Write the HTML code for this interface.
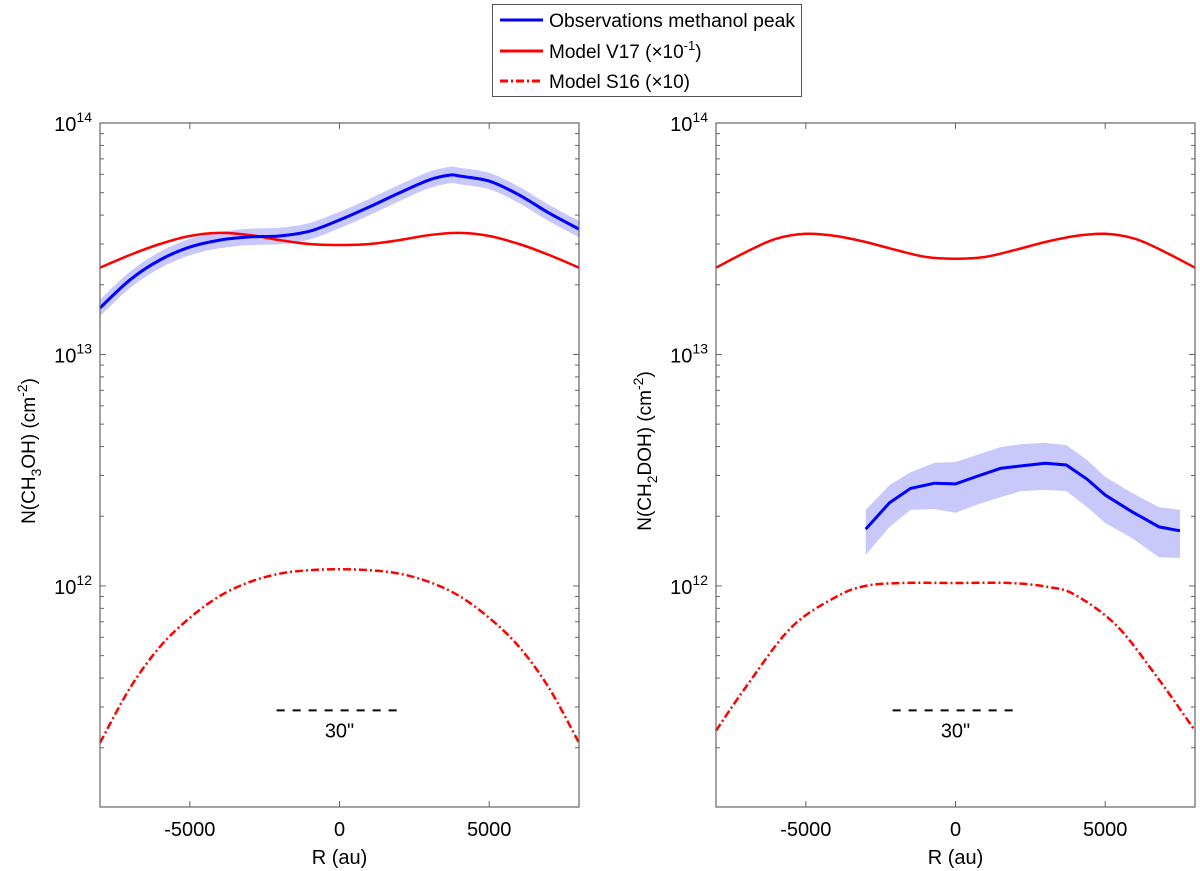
<!DOCTYPE html>
<html><head><meta charset="utf-8"><style>
html,body{margin:0;padding:0;background:#fff}
svg{display:block;font-family:"Liberation Sans",Arial,sans-serif}
</style></head><body>
<svg id="chart" width="1200" height="871" viewBox="0 0 1200 871" xmlns="http://www.w3.org/2000/svg">
<g id="left"></g>
<g id="right"></g>
<g>
<rect x="492.5" y="4.5" width="309" height="92" fill="#fff" stroke="#555" stroke-width="1"/>
<line x1="500" y1="20" x2="543" y2="20" stroke="#0000ff" stroke-width="3"/>
<text x="549" y="27" font-size="19" textLength="246" lengthAdjust="spacingAndGlyphs">Observations methanol peak</text>
<line x1="500" y1="51" x2="543" y2="51" stroke="#ff0000" stroke-width="3"/>
<text x="549" y="58" font-size="19">Model V17 (×10<tspan dy="-8" font-size="13">-1</tspan><tspan dy="8">)</tspan></text>
<line x1="500" y1="81" x2="543" y2="81" stroke="#ff0000" stroke-width="3" stroke-dasharray="8,3,2,3"/>
<text x="549" y="88" font-size="19">Model S16 (×10)</text>
</g>
</svg>
<script>
// ---- data ----
const xTicks = [-5000, 0, 5000];
const xTickLabels = ["-5000", "0", "5000"];
const yDecades = [12, 13, 14];
// Left panel (CH3OH)
const leftV17X = [-8000,-7000,-6000,-5000,-4000,-3000,-2000,-1000,0,1000,2000,3000,4000,5000,6000,7000,8000];
const leftV17Y = [2.37e13,2.69e13,3.00e13,3.25e13,3.35e13,3.28e13,3.12e13,3.00e13,2.97e13,3.00e13,3.12e13,3.28e13,3.35e13,3.25e13,3.00e13,2.69e13,2.37e13];
const leftObsX = [-8000,-7000,-6000,-5000,-4000,-3000,-2000,-1000,0,1000,2000,3000,3700,4000,5000,6000,7000,8000];
const leftObsY = [1.59e13,2.10e13,2.56e13,2.91e13,3.12e13,3.22e13,3.25e13,3.41e13,3.81e13,4.34e13,4.99e13,5.68e13,5.96e13,5.90e13,5.61e13,4.89e13,4.08e13,3.48e13];
const leftObsErr = [0.085,0.085,0.085,0.085,0.085,0.085,0.085,0.085,0.085,0.085,0.085,0.085,0.085,0.085,0.085,0.085,0.085,0.085];
const leftS16X = [-8000,-7000,-6000,-5000,-4000,-3000,-2000,-1000,0,1000,2000,3000,4000,5000,6000,7000,8000];
const leftS16Y = [2.10e11,3.62e11,5.46e11,7.28e11,9.05e11,1.04e12,1.13e12,1.17e12,1.18e12,1.17e12,1.13e12,1.04e12,9.05e11,7.28e11,5.46e11,3.62e11,2.10e11];
// Right panel (CH2DOH)
const rightV17X = [-8000,-7000,-6000,-5000,-4000,-3000,-2000,-1000,0,1000,2000,3000,4000,5000,6000,7000,8000];
const rightV17Y = [2.37e13,2.77e13,3.16e13,3.32e13,3.25e13,3.06e13,2.83e13,2.64e13,2.59e13,2.64e13,2.83e13,3.06e13,3.25e13,3.32e13,3.16e13,2.77e13,2.37e13];
const rightObsX = [-3000,-2200,-1500,-700,0,700,1500,2200,3000,3700,4400,5000,5900,6800,7500];
const rightObsY = [1.76e12,2.29e12,2.64e12,2.78e12,2.76e12,2.97e12,3.22e12,3.30e12,3.39e12,3.33e12,2.89e12,2.47e12,2.09e12,1.80e12,1.73e12];
const rightObsHi = [2.13e12,2.73e12,3.10e12,3.40e12,3.43e12,3.68e12,3.98e12,4.10e12,4.15e12,4.06e12,3.50e12,2.96e12,2.52e12,2.19e12,2.13e12];
const rightObsLo = [1.36e12,1.80e12,2.13e12,2.15e12,2.07e12,2.24e12,2.42e12,2.57e12,2.60e12,2.57e12,2.19e12,1.87e12,1.61e12,1.33e12,1.32e12];
const rightS16X = [-8000,-7000,-5500,-4000,-3000,-1800,0,1800,3100,4000,5400,6800,8000];
const rightS16Y = [2.37e11,3.66e11,6.59e11,8.96e11,1.00e12,1.03e12,1.03e12,1.03e12,0.99e12,9.14e11,6.70e11,3.93e11,2.37e11];
const scaleBar = [-2100, 2100, 2.9e11];

const NS = "http://www.w3.org/2000/svg";
function mk(tag, attrs, parent){const e=document.createElementNS(NS,tag);for(const k in attrs)e.setAttribute(k,attrs[k]);parent.appendChild(e);return e;}

function smoothPath(pts){
  let d='M'+pts[0][0].toFixed(1)+','+pts[0][1].toFixed(1);
  for(let i=0;i<pts.length-1;i++){
    const p0=pts[Math.max(0,i-1)],p1=pts[i],p2=pts[i+1],p3=pts[Math.min(pts.length-1,i+2)];
    const c1=[p1[0]+(p2[0]-p0[0])/6,p1[1]+(p2[1]-p0[1])/6];
    const c2=[p2[0]-(p3[0]-p1[0])/6,p2[1]-(p3[1]-p1[1])/6];
    d+='C'+c1[0].toFixed(1)+','+c1[1].toFixed(1)+' '+c2[0].toFixed(1)+','+c2[1].toFixed(1)+' '+p2[0].toFixed(1)+','+p2[1].toFixed(1);
  }
  return d;
}

function panel(g, x0, x1, prefix, ylabelMain, ylabelSub, series, smoothObs){
  const yTop=123, yBot=807, logMin=11.045, logMax=14;
  const X = v => x0 + (v + 8000) / 16000 * (x1 - x0);
  const Y = v => yBot - (Math.log10(v) - logMin) / (logMax - logMin) * (yBot - yTop);
  const pts = (xs, ys) => xs.map((x,i)=>[X(x),Y(ys[i])]);
  const lin = p => p.map((q,i)=>(i?'L':'M')+q[0].toFixed(1)+','+q[1].toFixed(1)).join('');
  if (series.band) {
    const b = series.band;
    const hi = pts(b.x,b.hi), lo = pts(b.x,b.lo).reverse();
    let d;
    if (smoothObs) d = smoothPath(hi) + smoothPath(lo).replace(/^M/,'L') + 'Z';
    else d = lin(hi) + lin(lo).replace(/^M/,'L') + 'Z';
    const p = mk('path',{d:d,fill:'#c8c8fa',stroke:'none'},g);
    
    
  }
  const s16 = mk('path',{d:smoothPath(pts(series.s16x,series.s16y)),fill:'none',stroke:'#ff0000','stroke-width':2.5,'stroke-dasharray':'8,3,2,3'},g);
  
  
  const v17 = mk('path',{d:smoothPath(pts(series.v17x,series.v17y)),fill:'none',stroke:'#ff0000','stroke-width':2.5},g);
  
  
  const op = pts(series.obsx,series.obsy);
  const obs = mk('path',{d:smoothObs?smoothPath(op):lin(op),fill:'none',stroke:'#0000ff','stroke-width':3},g);
  
  
  const sb = mk('line',{x1:X(scaleBar[0]),x2:X(scaleBar[1]),y1:Y(scaleBar[2]),y2:Y(scaleBar[2]),stroke:'#000','stroke-width':2,'stroke-dasharray':'8,8'},g);
  
  
  const sbt = mk('text',{x:X(0),y:Y(scaleBar[2])+27,'font-size':20,'text-anchor':'middle'},g);
  sbt.textContent='30"';
  
  
  const box = mk('rect',{x:x0,y:yTop,width:x1-x0,height:yBot-yTop,fill:'none',stroke:'#666','stroke-width':1.2},g);
  
  
  xTicks.forEach((t,i)=>{
    const x=X(t);
    mk('line',{x1:x,x2:x,y1:yBot,y2:yBot-6,stroke:'#666'},g);
    mk('line',{x1:x,x2:x,y1:yTop,y2:yTop+6,stroke:'#666'},g);
    const tl = mk('text',{x:x,y:yBot+29,'font-size':20,'text-anchor':'middle'},g);
    tl.textContent = xTickLabels[i];
    
    
  });
  for (let dec=11; dec<14; dec++){
    for (let m=1; m<10; m++){
      const lv = dec + Math.log10(m);
      if (lv < logMin || lv > logMax) continue;
      const y = Y(Math.pow(10,lv));
      const len = m===1?6:4;
      mk('line',{x1:x0,x2:x0+len,y1:y,y2:y,stroke:'#666'},g);
      mk('line',{x1:x1,x2:x1-len,y1:y,y2:y,stroke:'#666'},g);
    }
  }
  yDecades.forEach(d=>{
    const y = Y(Math.pow(10,d));
    const t = mk('text',{x:x0-8,y:y+8,'font-size':20,'text-anchor':'end'},g);
    t.innerHTML = '10<tspan dy="-9" font-size="14">'+d+'</tspan>';
    
    
  });
  const xl = mk('text',{x:(x0+x1)/2,y:864,'font-size':20,'text-anchor':'middle'},g);
  xl.textContent='R (au)';
  
  
  const yl = mk('text',{x:0,y:0,'font-size':19,'text-anchor':'middle',transform:'translate('+(x0-65)+',451) rotate(-90)'},g);
  yl.innerHTML = 'N(CH<tspan dy="6" font-size="14">'+ylabelSub+'</tspan><tspan dy="-6">'+ylabelMain+') (cm</tspan><tspan dy="-8" font-size="14">-2</tspan><tspan dy="8">)</tspan>';
  
  
}

const lband = {x:leftObsX, hi:leftObsY.map((v,i)=>v*(1+leftObsErr[i])), lo:leftObsY.map((v,i)=>v/(1+leftObsErr[i]))};
panel(document.getElementById('left'),100,579,'left','OH','3',
  {band:lband,s16x:leftS16X,s16y:leftS16Y,v17x:leftV17X,v17y:leftV17Y,obsx:leftObsX,obsy:leftObsY}, true);
panel(document.getElementById('right'),716,1195,'right','DOH','2',
  {band:{x:rightObsX,hi:rightObsHi,lo:rightObsLo},s16x:rightS16X,s16y:rightS16Y,v17x:rightV17X,v17y:rightV17Y,obsx:rightObsX,obsy:rightObsY}, false);
</script>
</body></html>
